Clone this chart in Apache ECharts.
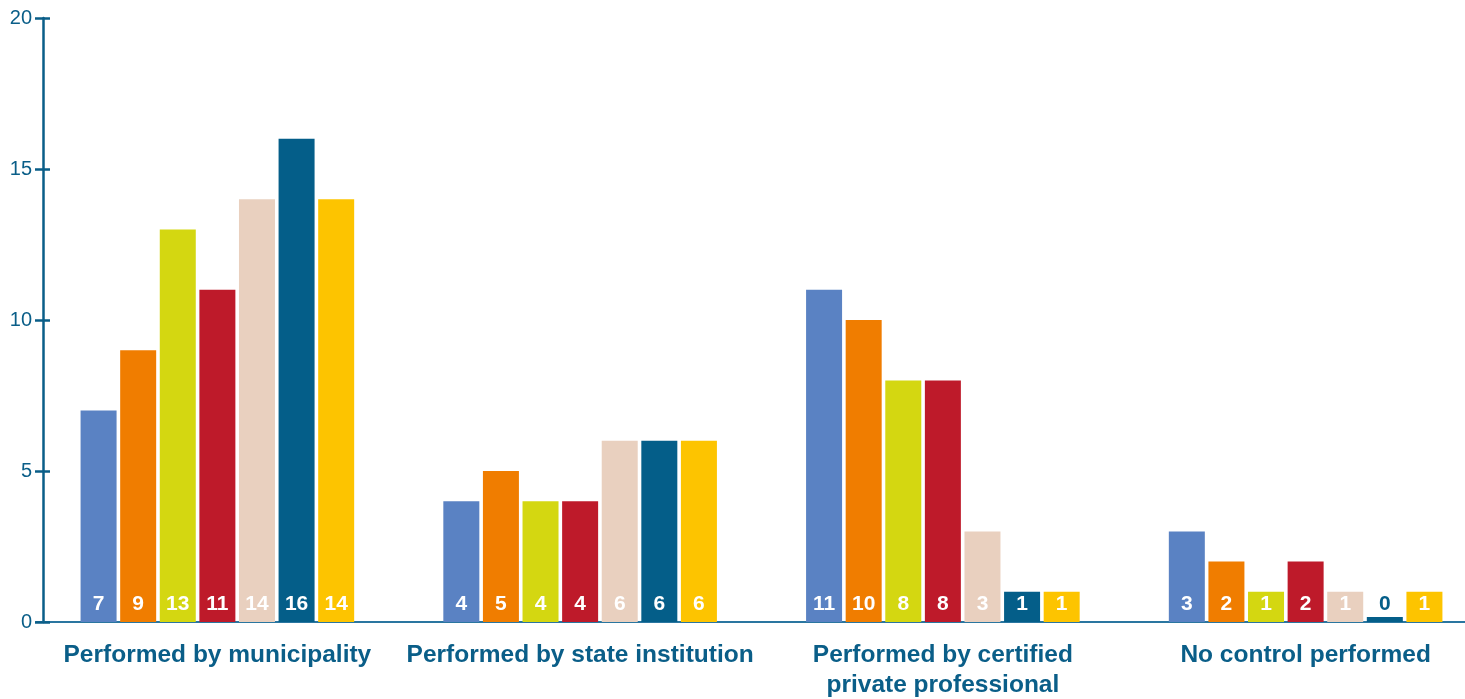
<!DOCTYPE html>
<html>
<head>
<meta charset="utf-8">
<script src="https://cdn.jsdelivr.net/npm/echarts@6/dist/echarts.min.js"></script>
<style>
html,body{margin:0;padding:0;background:#fff;}
#chart{width:1465px;height:699px;}
</style>
</head>
<body>
<div id="chart"></div>
<script>
// Category labels along the x axis
const categories = [
  'Performed by municipality',
  'Performed by state institution',
  'Performed by certified\nprivate professional',
  'No control performed'
];
// Seven series, one bar per category each
const seriesA = [7, 4, 11, 3];
const seriesB = [9, 5, 10, 2];
const seriesC = [13, 4, 8, 1];
const seriesD = [11, 4, 8, 2];
const seriesE = [14, 6, 3, 1];
const seriesF = [16, 6, 1, 0];
const seriesG = [14, 6, 1, 1];
const seriesValues = [seriesA, seriesB, seriesC, seriesD, seriesE, seriesF, seriesG];
const colors = ['#5a82c3', '#f07d00', '#d4d711', '#be1a2a', '#e9d0bf', '#045e89', '#fdc400'];
const yTicks = { min: 0, max: 20, interval: 5 };

const axisColor = '#0a5e88';
const font = 'Liberation Sans, Arial, sans-serif';

const chart = echarts.init(document.getElementById('chart'));

const series = seriesValues.map((vals, i) => ({
  type: 'bar',
  barWidth: 36,
  barGap: '10%',
  barMinHeight: 5,
  itemStyle: { color: colors[i] },
  label: {
    show: true,
    position: 'insideBottom',
    distance: 7,
    color: '#ffffff',
    fontFamily: font,
    fontWeight: 'bold',
    fontSize: 21
  },
  // a zero bar keeps a thin sliver and a coloured label
  data: vals.map(v => v === 0
    ? { value: v, label: { color: colors[5] } }
    : v)
}));

chart.setOption({
  animation: false,
  grid: { left: 36, width: 1451, top: 18, bottom: 77, outerBoundsMode: 'none', containLabel: false },
  xAxis: {
    type: 'category',
    data: categories,
    axisLine: { lineStyle: { color: '#2a76a0', width: 2 } },
    axisTick: { show: false },
    axisLabel: {
      color: axisColor,
      fontFamily: font,
      fontWeight: 'bold',
      fontSize: 24.5,
      margin: 18,
      lineHeight: 30,
      interval: 0
    }
  },
  yAxis: [
    {
      type: 'value',
      min: yTicks.min, max: yTicks.max, interval: yTicks.interval,
      offset: -7,
      axisLine: { show: true, lineStyle: { color: axisColor, width: 2.5 } },
      axisTick: { show: true, length: 8, lineStyle: { color: axisColor, width: 2.5 } },
      axisLabel: { color: axisColor, fontFamily: font, fontSize: 20, margin: 11 },
      splitLine: { show: false }
    },
    {
      type: 'value',
      position: 'left',
      min: yTicks.min, max: yTicks.max, interval: yTicks.interval,
      offset: -7,
      axisLine: { show: false },
      axisTick: { show: true, inside: true, length: 7, lineStyle: { color: axisColor, width: 2.5 } },
      axisLabel: { show: false },
      splitLine: { show: false }
    }
  ],
  series: series
});
</script>
</body>
</html>
